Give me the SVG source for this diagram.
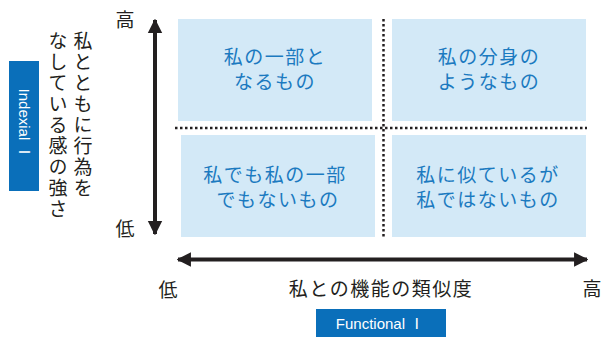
<svg xmlns="http://www.w3.org/2000/svg" width="601" height="337" viewBox="0 0 601 337">
<defs>
<style>
.box{fill:#d3e9f7}
.bt{font-family:"Noto Sans CJK JP","Noto Sans",sans-serif;font-size:19px;fill:#1b7ac0;text-anchor:middle;letter-spacing:1.5px}
.lab{font-family:"Noto Sans CJK JP",sans-serif;font-size:19px;fill:#231f20}
.vt{font-family:"Noto Sans CJK JP",sans-serif;font-size:19px;fill:#231f20;writing-mode:vertical-rl;letter-spacing:2px}
.tag{fill:#0a6fba}
.tt{font-family:"Liberation Sans","Noto Sans CJK JP",sans-serif;font-size:15px;fill:#fff;text-anchor:middle}
.dot{stroke:#231f20;stroke-width:2.5;stroke-dasharray:2.5 2.5;fill:none}
.ax{stroke:#231f20;stroke-width:4;fill:none}
</style>
<marker id="ah" viewBox="0 0 10 10" refX="9" refY="5" markerWidth="3.6" markerHeight="3.8" orient="auto-start-reverse" markerUnits="strokeWidth">
<path d="M0,0 L10,5 L0,10 z" fill="#231f20"/>
</marker>
</defs>
<g id="connectors">
<line class="ax" x1="155" y1="20" x2="155" y2="234" marker-start="url(#ah)" marker-end="url(#ah)"/>
<line class="ax" x1="178" y1="259.5" x2="587" y2="259.5" marker-start="url(#ah)" marker-end="url(#ah)"/>
<line class="dot" x1="383.5" y1="19" x2="383.5" y2="238"/>
<line class="dot" x1="175" y1="128" x2="587" y2="128"/>
</g>
<g id="q1"><rect class="box" x="178" y="19" width="194" height="102"/>
<text class="bt" x="275" y="64">私の一部と</text><text class="bt" x="275" y="89">なるもの</text></g>
<g id="q2"><rect class="box" x="392" y="19" width="194" height="102"/>
<text class="bt" x="489" y="64">私の分身の</text><text class="bt" x="489" y="89">ようなもの</text></g>
<g id="q3"><rect class="box" x="181" y="135" width="194" height="102"/>
<text class="bt" x="275" y="182">私でも私の一部</text><text class="bt" x="278" y="207">でもないもの</text></g>
<g id="q4"><rect class="box" x="392" y="135" width="194" height="102"/>
<text class="bt" x="488" y="182">私に似ているが</text><text class="bt" x="488" y="207">私ではないもの</text></g>
<g id="yaxis">
<text class="lab" x="125" y="27" text-anchor="middle">高</text>
<text class="lab" x="125" y="236" text-anchor="middle">低</text>
<text class="vt" x="83" y="31">私とともに行為を</text>
<text class="vt" x="58" y="31">なしている感の強さ</text>
</g>
<g id="indexial"><rect class="tag" x="9" y="61" width="30" height="130"/>
<text class="tt" transform="translate(24,124) rotate(90)" y="5.5" font-size="15.5">Indexial Ⅰ</text></g>
<g id="xaxis">
<text class="lab" x="168" y="297" text-anchor="middle">低</text>
<text class="lab" x="592" y="296" text-anchor="middle">高</text>
<text class="lab" x="381" y="296" text-anchor="middle" letter-spacing="1.5">私との機能の類似度</text>
</g>
<g id="functional"><rect class="tag" x="316" y="309" width="130" height="28"/>
<text class="tt" x="380" y="328.5">Functional Ⅰ</text></g>
</svg>
